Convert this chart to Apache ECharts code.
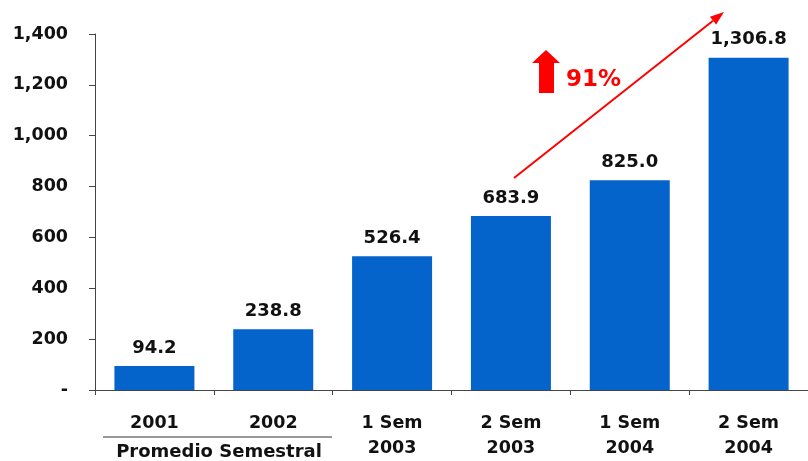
<!DOCTYPE html>
<html><head><meta charset="utf-8">
<script src="https://cdn.jsdelivr.net/npm/echarts@6/dist/echarts.min.js"></script>
<style>html,body{margin:0;padding:0;background:#fff}#c{width:808px;height:461px}</style>
</head><body><div id="c"></div>
<script>
const categories = ['2001', '2002', '1 Sem\n2003', '2 Sem\n2003', '1 Sem\n2004', '2 Sem\n2004'];
const values = [94.2, 238.8, 526.4, 683.9, 825.0, 1306.8];
const growthText = '91%';
const groupText = 'Promedio Semestral';

const FONT = '"DejaVu Sans", Verdana, sans-serif';
const chart = echarts.init(document.getElementById('c'));
const fmt = v => v.toLocaleString('en-US', {minimumFractionDigits: 1, maximumFractionDigits: 1});

// arrow geometry
const a0 = [514, 178], a1 = [724, 12];
const dx = a1[0] - a0[0], dy = a1[1] - a0[1], L = Math.hypot(dx, dy);
const ux = dx / L, uy = dy / L, px = -uy, py = ux;
const hl = 14, hw = 5;
const base = [a1[0] - ux * hl, a1[1] - uy * hl];

chart.setOption({
  animation: false,
  grid: {left: 95, right: -8, top: 34, bottom: 68, containLabel: false},
  xAxis: {
    type: 'category',
    data: categories,
    axisLine: {lineStyle: {color: '#444', width: 1}},
    axisTick: {show: true, length: 5, lineStyle: {color: '#444'}},
    axisLabel: {color: '#111', fontFamily: FONT, fontWeight: 'bold', fontSize: 17.5, lineHeight: 25, margin: 21, interval: 0}
  },
  yAxis: {
    type: 'value', min: 0, max: 1400, interval: 200,
    axisLine: {show: true, lineStyle: {color: '#444', width: 1}},
    axisTick: {show: true, length: 6, lineStyle: {color: '#444'}},
    splitLine: {show: false},
    axisLabel: {color: '#111', fontFamily: FONT, fontWeight: 'bold', fontSize: 17.5, margin: 27,
      formatter: v => v === 0 ? '-' : v.toLocaleString('en-US')}
  },
  series: [{
    type: 'bar', data: values, barWidth: 80,
    itemStyle: {color: '#0564CB'},
    label: {show: true, position: 'top', distance: 9, color: '#111', fontFamily: FONT, fontWeight: 'bold', fontSize: 18,
      formatter: p => fmt(p.value)}
  }],
  graphic: [
    {type: 'line', shape: {x1: 103, y1: 437, x2: 332, y2: 437}, style: {stroke: '#333', lineWidth: 1}},
    {type: 'text', x: 219, y: 452, style: {text: groupText, fill: '#111', font: 'bold 18px ' + FONT, textAlign: 'center', textVerticalAlign: 'middle'}},
    {type: 'line', shape: {x1: a0[0], y1: a0[1], x2: base[0], y2: base[1]}, style: {stroke: '#FF0000', lineWidth: 2}},
    {type: 'polygon', shape: {points: [a1, [base[0] + px * hw, base[1] + py * hw], [base[0] - px * hw, base[1] - py * hw]]}, style: {fill: '#FF0000'}},
    {type: 'polygon', shape: {points: [[546, 50], [560, 63], [554, 63], [554, 93], [539, 93], [539, 63], [532, 63]]}, style: {fill: '#FF0000'}},
    {type: 'text', x: 566, y: 80, style: {text: growthText, fill: '#FF0000', font: 'bold 23px ' + FONT, textVerticalAlign: 'middle'}}
  ]
});
</script></body></html>
